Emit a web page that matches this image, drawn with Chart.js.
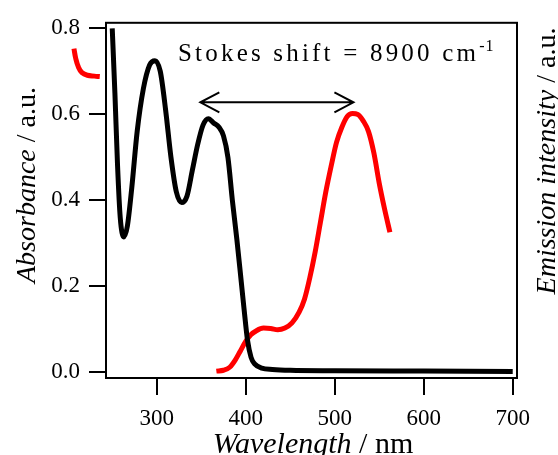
<!DOCTYPE html>
<html>
<head>
<meta charset="utf-8">
<script src="https://cdn.jsdelivr.net/npm/chart.js@4.4.1/dist/chart.umd.min.js"></script>
<style>
    html, body { margin: 0; padding: 0; background: #fff; }
    #wrap { width: 558px; height: 455px; }
</style>
</head>
<body>
<div id="wrap"><canvas id="spectraChart" width="558" height="455"></canvas></div>
<script>
// 흡수 스펙트럼 (검정)
const absWl  = [250, 253, 256, 259, 263, 267, 272, 278, 285, 292, 298, 304, 310, 316, 322, 328, 334, 340, 346, 352, 358, 364, 370, 375, 380, 385, 390, 395, 398, 402, 406, 410, 418, 430, 450, 500, 600, 700];
const absVal = [0.80, 0.65, 0.48, 0.36, 0.315, 0.34, 0.43, 0.56, 0.66, 0.715, 0.725, 0.70, 0.61, 0.50, 0.42, 0.395, 0.41, 0.47, 0.53, 0.575, 0.59, 0.58, 0.57, 0.55, 0.50, 0.40, 0.31, 0.21, 0.15, 0.075, 0.035, 0.02, 0.01, 0.007, 0.005, 0.004, 0.003, 0.002];

// 발광 스펙트럼 (빨강)
const emWl  = [367, 375, 382, 388, 394, 400, 406, 412, 420, 428, 436, 444, 452, 460, 466, 472, 478, 484, 490, 496, 502, 508, 514, 520, 526, 532, 538, 544, 550, 556, 562];
const emVal = [0.003, 0.005, 0.012, 0.028, 0.05, 0.072, 0.088, 0.097, 0.103, 0.102, 0.099, 0.103, 0.115, 0.14, 0.17, 0.22, 0.28, 0.35, 0.42, 0.48, 0.535, 0.57, 0.595, 0.602, 0.60, 0.585, 0.56, 0.51, 0.44, 0.38, 0.326];

// 발광 스펙트럼 왼쪽 축 바깥 조각 (내림차순)
const emEdgeWl  = [236, 230, 222, 216, 212, 209, 207];
const emEdgeVal = [0.688, 0.689, 0.691, 0.697, 0.71, 0.73, 0.753];

const xTicks = [300, 400, 500, 600, 700];
const yTicks = [0.0, 0.2, 0.4, 0.6, 0.8];

// Stokes shift 화살표 (nm, 높이)
const arrowWl = [349, 521];
const arrowLevel = 0.628;
const stokesText = 'Stokes shift = 8900 cm';
const stokesSup = '-1';

const SERIF = "'Liberation Serif', 'Times New Roman', serif";

function toPoints(xs, ys) {
    return xs.map((x, i) => ({ x: x, y: ys[i] }));
}

// 축 제목, 테두리, 화살표
const decorPlugin = {
    id: 'decor',
    afterDraw(chart) {
        const ctx = chart.ctx;
        const a = chart.chartArea;
        const xs = chart.scales.x;
        const ys = chart.scales.y;
        ctx.save();

        // plot box
        ctx.strokeStyle = '#000';
        ctx.lineWidth = 2;
        ctx.strokeRect(a.left, a.top, a.right - a.left, a.bottom - a.top);

        // arrow
        const x1 = xs.getPixelForValue(arrowWl[0]);
        const x2 = xs.getPixelForValue(arrowWl[1]);
        const yA = ys.getPixelForValue(arrowLevel);
        ctx.lineWidth = 2;
        ctx.beginPath();
        ctx.moveTo(x1, yA); ctx.lineTo(x2, yA);
        ctx.moveTo(x1 + 19, yA - 10); ctx.lineTo(x1, yA); ctx.lineTo(x1 + 19, yA + 10);
        ctx.moveTo(x2 - 19, yA - 10); ctx.lineTo(x2, yA); ctx.lineTo(x2 - 19, yA + 10);
        ctx.stroke();

        // Stokes text
        ctx.fillStyle = '#000';
        ctx.textBaseline = 'alphabetic';
        ctx.textAlign = 'left';
        ctx.font = '25px ' + SERIF;
        ctx.letterSpacing = '3.2px';
        ctx.fillText(stokesText, 178, 61);
        const w = ctx.measureText(stokesText).width;
        ctx.font = '16px ' + SERIF;
        ctx.letterSpacing = '1px';
        ctx.fillText(stokesSup, 178 + w, 51);
        ctx.letterSpacing = '0px';

        // x title
        drawTitle(ctx, 'Wavelength', ' / nm', 313, 453, 0, 30);
        // left title
        drawTitle(ctx, 'Absorbance', ' / a.u.', 35, 185, -Math.PI / 2, 28);
        // right title
        drawTitle(ctx, 'Emission intensity', ' / a.u.', 555, 161, -Math.PI / 2, 28);

        ctx.restore();
    }
};

function drawTitle(ctx, italicPart, plainPart, cx, cy, rot, size) {
    ctx.save();
    ctx.translate(cx, cy);
    ctx.rotate(rot);
    ctx.font = 'italic ' + size + 'px ' + SERIF;
    const w1 = ctx.measureText(italicPart).width;
    ctx.font = size + 'px ' + SERIF;
    const w2 = ctx.measureText(plainPart).width;
    const start = -(w1 + w2) / 2;
    ctx.textAlign = 'left';
    ctx.textBaseline = 'alphabetic';
    ctx.font = 'italic ' + size + 'px ' + SERIF;
    ctx.fillText(italicPart, start, 0);
    ctx.font = size + 'px ' + SERIF;
    ctx.fillText(plainPart, start + w1, 0);
    ctx.restore();
}

const ctx = document.getElementById('spectraChart').getContext('2d');
const spectraChart = new Chart(ctx, {
    type: 'line',
    data: {
        datasets: [{
            label: 'Absorbance',
            data: toPoints(absWl, absVal),
            borderColor: '#000',
            borderWidth: 5,
            pointRadius: 0,
            cubicInterpolationMode: 'monotone',
            borderJoinStyle: 'round'
        }, {
            label: 'Emission',
            data: toPoints(emWl, emVal),
            borderColor: '#ff0000',
            borderWidth: 5,
            pointRadius: 0,
            cubicInterpolationMode: 'monotone',
            borderJoinStyle: 'round'
        }, {
            label: 'Emission (edge)',
            data: toPoints(emEdgeWl, emEdgeVal),
            borderColor: '#ff0000',
            borderWidth: 5,
            pointRadius: 0,
            tension: 0.4,
            borderJoinStyle: 'round',
            clip: false
        }]
    },
    options: {
        responsive: false,
        animation: false,
        devicePixelRatio: 1,
        layout: {
            padding: { top: 17, right: 41, left: 0, bottom: 0 }
        },
        plugins: {
            legend: { display: false },
            tooltip: { enabled: false }
        },
        scales: {
            x: {
                type: 'linear',
                min: 243,
                max: 704.8,
                afterBuildTicks: (s) => { s.ticks = xTicks.map(v => ({ value: v })); },
                afterFit: (s) => { s.height = 77; },
                ticks: {
                    color: '#000',
                    font: { family: SERIF, size: 23 },
                    padding: 10,
                    maxRotation: 0,
                    callback: (v) => v
                },
                grid: {
                    drawOnChartArea: false,
                    drawTicks: true,
                    tickLength: 17,
                    lineWidth: 2,
                    color: '#000'
                },
                border: { display: false }
            },
            y: {
                type: 'linear',
                min: -0.013,
                max: 0.813,
                afterBuildTicks: (s) => { s.ticks = yTicks.map(v => ({ value: v })); },
                afterFit: (s) => { s.width = 106; },
                ticks: {
                    color: '#000',
                    font: { family: SERIF, size: 23 },
                    padding: 9,
                    callback: (v) => Number(v).toFixed(1)
                },
                grid: {
                    drawOnChartArea: false,
                    drawTicks: true,
                    tickLength: 17,
                    lineWidth: 2,
                    color: '#000'
                },
                border: { display: false }
            }
        }
    },
    plugins: [decorPlugin]
});
</script>
</body>
</html>
